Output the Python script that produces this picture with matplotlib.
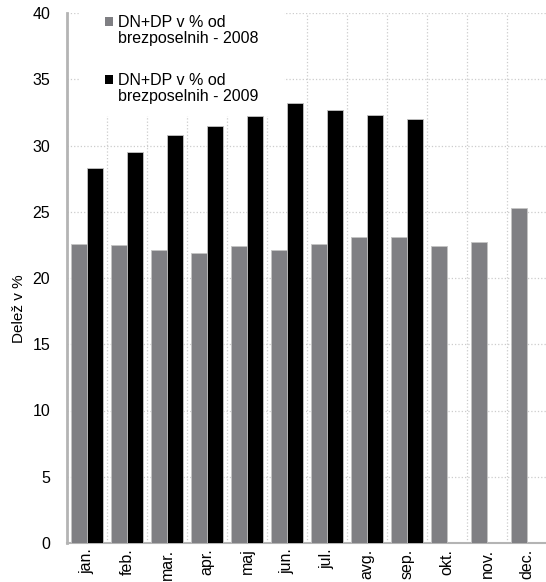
import matplotlib
matplotlib.use("Agg")
import matplotlib.pyplot as plt  # noqa: E402
import numpy as np  # noqa: E402
from matplotlib.patches import Rectangle  # noqa: E402

months = ["jan.", "feb.", "mar.", "apr.", "maj", "jun.", "jul.", "avg.", "sep.", "okt.", "nov.", "dec."]
share_2008 = [22.6, 22.5, 22.1, 21.9, 22.4, 22.1, 22.6, 23.1, 23.1, 22.4, 22.7, 25.3]
share_2009 = [28.3, 29.5, 30.8, 31.5, 32.2, 33.2, 32.7, 32.3, 32.0]
legend_labels = ["DN+DP v % od\nbrezposelnih - 2008", "DN+DP v % od\nbrezposelnih - 2009"]
y_ticks = [0, 5, 10, 15, 20, 25, 30, 35, 40]

GREY, BLACK, EDGE, GRID, SPINE = "#7f7f83", "#000000", "#c4c4c4", "#cccccc", "#b4b4b4"
W, H = 546, 582
FS = 11.5

plt.rcParams["font.family"] = ["Liberation Sans", "DejaVu Sans"]
fig = plt.figure(figsize=(W / 100, H / 100), dpi=100)
ax = fig.add_axes([67 / W, 1 - 543 / H, 480 / W, 530 / H])

x = np.arange(len(months))
bw = 0.4
ax.bar(x[:len(share_2008)] - 0.21, share_2008, bw, color=GREY, edgecolor=EDGE, lw=0.6, zorder=3)
ax.bar(x[:len(share_2009)] + 0.19, share_2009, bw, color=BLACK, edgecolor=EDGE, lw=0.6, zorder=3)

ax.set_xlim(-0.5, len(months) - 0.5)
ax.set_ylim(0, 40)
ax.set_yticks(y_ticks)
ax.set_xticks(x)
ax.set_xticklabels(months, rotation=90, va="top")
ax.set_xticks(np.arange(-0.5, len(months), 1), minor=True)
ax.tick_params(axis="y", length=0, pad=12, labelsize=FS)
ax.tick_params(axis="x", which="both", length=0, pad=4, labelsize=FS)
ax.grid(which="major", axis="y", color=GRID, ls=":", lw=0.9, zorder=0)
ax.grid(which="minor", axis="x", color=GRID, ls=":", lw=0.9, zorder=0)
ax.set_axisbelow(True)

for s in ("top", "right"):
    ax.spines[s].set_visible(False)
ax.spines["left"].set_color(SPINE); ax.spines["left"].set_linewidth(2)
ax.spines["bottom"].set_color(SPINE); ax.spines["bottom"].set_linewidth(1.5)

ax.set_ylabel("Delež v %", fontsize=11)
ax.yaxis.set_label_coords(-0.085, 0.443)

# legend drawn by hand: marker sits on the first line, like the original
ax.add_patch(Rectangle((80 / W, 1 - 116 / H), 204 / W, 110 / H, transform=fig.transFigure,
                       facecolor="white", edgecolor="none", zorder=2, clip_on=False))
for color, label, base in zip([GREY, BLACK], legend_labels, [26, 84]):
    ax.add_patch(Rectangle((105 / W, 1 - base / H), 8 / W, 9 / H, transform=fig.transFigure,
                           facecolor=color, edgecolor="none", zorder=4, clip_on=False))
    # multi-line text with va="baseline" sits on the last line's baseline
    fig.text(118 / W, 1 - (base + 17) / H, label, fontsize=FS, va="baseline", ha="left",
             linespacing=1.05, zorder=4)

fig.savefig("out.png", dpi=100)
